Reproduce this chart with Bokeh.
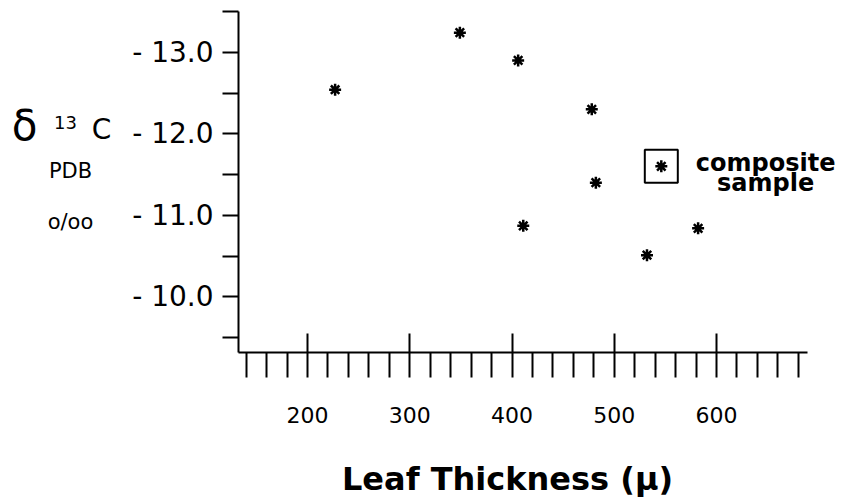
from bokeh.plotting import figure
from bokeh.models import Range1d, FixedTicker, Label
from bokeh.embed import file_html
from bokeh.resources import INLINE
from bokeh.core.properties import value

# ---- data ----
thickness = [227, 349, 406, 478, 482, 411, 532, 582]
delta13c = [-12.54, -13.24, -12.90, -12.30, -11.40, -10.87, -10.51, -10.84]
composite_thickness = [546]
composite_delta = [-11.60]

x_major_ticks = [200, 300, 400, 500, 600]
x_minor_ticks = [140, 160, 180, 220, 240, 260, 280, 320, 340, 360, 380, 420, 440,
                 460, 480, 520, 540, 560, 580, 620, 640, 660, 680]
y_ticks = [-13.5, -13.0, -12.5, -12.0, -11.5, -11.0, -10.5, -10.0, -9.5]
y_tick_labels = ["", "- 13.0", "", "- 12.0", "", "- 11.0", "", "- 10.0", ""]

x_axis_bounds = (132.5, 689.0)
y_axis_bounds = (-13.5, -9.316)

FONT = "DejaVu Sans"

p = figure(width=843, height=500, output_backend="svg", toolbar_location=None,
           x_range=Range1d(-100.26, 724.19), y_range=Range1d(-7.50, -13.635))
p.min_border = 0
p.min_border_left = 0
p.min_border_right = 0
p.min_border_top = 0
p.min_border_bottom = 0
p.outline_line_color = None
p.grid.visible = False
p.background_fill_color = "white"
p.border_fill_color = "white"

# x axis
xa = p.xaxis[0]
xa.fixed_location = y_axis_bounds[1]
xa.bounds = x_axis_bounds
xa.ticker = FixedTicker(ticks=x_major_ticks, minor_ticks=x_minor_ticks)
xa.axis_line_width = 2
xa.axis_line_color = "black"
xa.major_tick_line_width = 2
xa.minor_tick_line_width = 2
xa.major_tick_line_color = "black"
xa.minor_tick_line_color = "black"
xa.major_tick_in = 19
xa.major_tick_out = 25
xa.minor_tick_in = 0
xa.minor_tick_out = 25
xa.major_label_text_font = FONT
xa.major_label_text_font_size = "22px"
xa.major_label_text_color = "black"
xa.major_label_standoff = 30

# y axis
ya = p.yaxis[0]
ya.fixed_location = x_axis_bounds[0]
ya.bounds = y_axis_bounds
ya.ticker = FixedTicker(ticks=y_ticks, minor_ticks=[])
ya.major_label_overrides = {t: lab for t, lab in zip(y_ticks, y_tick_labels)}
ya.axis_line_width = 2
ya.axis_line_color = "black"
ya.major_tick_line_width = 2
ya.major_tick_line_color = "black"
ya.major_tick_in = 0
ya.major_tick_out = 16
ya.minor_tick_in = 0
ya.minor_tick_out = 0
ya.major_label_text_font = FONT
ya.major_label_text_font_size = "28px"
ya.major_label_text_color = "black"
ya.major_label_standoff = 9

# data points
p.scatter(thickness, delta13c, marker="asterisk", size=12, line_width=2.5,
          line_color="black")
p.scatter(composite_thickness, composite_delta, marker="asterisk", size=12,
          line_width=2.5, line_color="black")
p.scatter(composite_thickness, composite_delta, marker="square", size=33,
          line_width=2, line_color="black", fill_color=None)

# composite sample note
p.text(x=[648], y=[-11.647], text=["composite"], text_font=value(FONT),
       text_font_style="bold", text_font_size="24px", text_align="center",
       text_baseline="alphabetic", text_color="black")
p.text(x=[648], y=[-11.39], text=["sample"], text_font=value(FONT),
       text_font_style="bold", text_font_size="24px", text_align="center",
       text_baseline="alphabetic", text_color="black")

# axis titles
def lab(x, y, t, size, style="normal"):
    p.add_layout(Label(x=x, y=y, text=t, text_font=FONT, text_font_size=size,
                       text_font_style=style, text_align="center",
                       text_baseline="middle", text_color="black"))

lab(-76.8, -12.10, "δ", "42px")
lab(-36.7, -12.14, "13", "18px")
lab(-1.5, -12.05, "C", "28px")
lab(-31.8, -11.54, "PDB", "21px")
lab(-31.8, -10.92, "o/oo", "21px")
lab(395.6, -7.758, "Leaf Thickness (µ)", "32px", "bold")

open("out.html", "w").write(file_html(p, INLINE))
